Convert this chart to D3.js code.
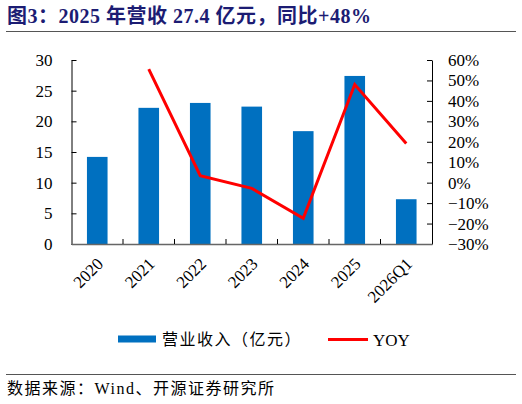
<!DOCTYPE html>
<html>
  <head>
    <meta charset="utf-8">
    <title>2025 revenue</title>
    <script src="https://d3js.org/d3.v7.min.js"></script>
    <style>
      body { margin: 0; background: #fff; }
      svg { display: block; }
      .serif { font-family: "Liberation Serif", "Times New Roman", serif; }
      .cjk { font-family: "Liberation Serif", "Noto Sans CJK SC", serif; }
    </style>
  </head>
  <body>
    <svg id="chart" width="522" height="404"></svg>
    <script>
      // data
      var categories = ["2020", "2021", "2022", "2023", "2024", "2025", "2026Q1"];
      var revenue = [14.2, 22.2, 23.0, 22.4, 18.4, 27.4, 7.3];
      var yoy = [null, 0.555, 0.034, -0.028, -0.174, 0.48, 0.192];
      var leftTicks = [0, 5, 10, 15, 20, 25, 30];
      var rightTicks = [-0.3, -0.2, -0.1, 0, 0.1, 0.2, 0.3, 0.4, 0.5, 0.6];

      var svg = d3.select("#chart");
      var plot = { left: 71.5, right: 432, top: 60, bottom: 244 };

      // title
      svg.append("text")
        .attr("x", 7)
        .attr("y", 23)
        .attr("fill", "#1c1c73")
        .style("font-family", "'Liberation Serif', 'Noto Sans CJK SC', serif")
        .style("font-weight", "bold")
        .style("font-size", "20px")
        .style("letter-spacing", "0.5px")
        .text("图3：2025 年营收 27.4 亿元，同比+48%");
      svg.append("line")
        .attr("x1", 6).attr("x2", 516)
        .attr("y1", 31.5).attr("y2", 31.5)
        .attr("stroke", "#555").attr("stroke-width", 1);

      // scales
      var x = d3.scaleBand()
        .domain(categories)
        .range([plot.left, plot.right])
        .paddingInner(0.6)
        .paddingOuter(0.3);
      var xStep = d3.scaleBand().domain(categories).range([plot.left, plot.right]);
      var yLeft = d3.scaleLinear().domain([0, 30]).range([plot.bottom, plot.top]);
      var yRight = d3.scaleLinear().domain([-0.3, 0.6]).range([plot.bottom, plot.top]);

      // bars
      svg.append("g")
        .selectAll("rect")
        .data(categories)
        .enter().append("rect")
          .attr("x", function(d) { return x(d); })
          .attr("width", x.bandwidth())
          .attr("y", function(d, i) { return yLeft(revenue[i]); })
          .attr("height", function(d, i) { return plot.bottom - yLeft(revenue[i]); })
          .attr("fill", "#0070c0");

      // yoy line
      var line = d3.line()
        .defined(function(d) { return d[1] !== null; })
        .x(function(d) { return xStep(d[0]) + xStep.bandwidth() / 2; })
        .y(function(d) { return yRight(d[1]); });
      svg.append("path")
        .datum(categories.map(function(c, i) { return [c, yoy[i]]; }))
        .attr("d", line)
        .attr("fill", "none")
        .attr("stroke", "#ff0000")
        .attr("stroke-width", 3);

      // left axis
      var leftAxis = d3.axisLeft(yLeft)
        .tickValues(leftTicks)
        .tickSize(-5)
        .tickSizeOuter(0)
        .tickPadding(19);
      var gl = svg.append("g")
        .attr("transform", "translate(" + plot.left + ",0)")
        .call(leftAxis);
      // right axis
      var rightAxis = d3.axisRight(yRight)
        .tickValues(rightTicks)
        .tickSize(-5)
        .tickSizeOuter(0)
        .tickPadding(16)
        .tickFormat(d3.format(".0%"));
      var gr = svg.append("g")
        .attr("transform", "translate(" + plot.right + ",0)")
        .call(rightAxis);
      // x axis
      var bottomAxis = d3.axisBottom(xStep)
        .tickSize(0)
        .tickSizeOuter(0)
        .tickPadding(0);
      var gb = svg.append("g")
        .attr("transform", "translate(0," + plot.bottom + ")")
        .call(bottomAxis);
      // boundary ticks
      gb.selectAll(".bound")
        .data(categories.slice(1))
        .enter().append("line")
          .attr("x1", function(d) { return xStep(d); })
          .attr("x2", function(d) { return xStep(d); })
          .attr("y1", 0).attr("y2", -5)
          .attr("stroke", "#000");

      [gl, gr, gb].forEach(function(g) {
        g.selectAll("text")
          .attr("class", "serif")
          .style("font-size", "17px")
          .attr("fill", "#000");
        g.selectAll("path, line").attr("stroke", "#000");
      });
      gb.selectAll(".tick text")
        .attr("text-anchor", "end")
        .attr("y", 0)
        .attr("dy", null)
        .attr("transform", "translate(7,21) rotate(-45)");
      gb.select(".domain").attr("stroke", "#666").attr("stroke-width", 1.5);

      // legend
      var legend = svg.append("g");
      legend.append("rect")
        .attr("x", 118).attr("y", 335.5)
        .attr("width", 38).attr("height", 7)
        .attr("fill", "#0070c0");
      legend.append("text")
        .attr("class", "cjk")
        .attr("x", 162).attr("y", 345)
        .style("font-size", "16px")
        .style("letter-spacing", "1.5px")
        .text("营业收入（亿元）");
      legend.append("line")
        .attr("x1", 328).attr("x2", 368)
        .attr("y1", 339.5).attr("y2", 339.5)
        .attr("stroke", "#ff0000").attr("stroke-width", 3);
      legend.append("text")
        .attr("class", "serif")
        .attr("x", 373).attr("y", 346)
        .style("font-size", "17px")
        .text("YOY");

      // source
      svg.append("line")
        .attr("x1", 6).attr("x2", 516)
        .attr("y1", 374.5).attr("y2", 374.5)
        .attr("stroke", "#555").attr("stroke-width", 1);
      svg.append("text")
        .attr("class", "cjk")
        .attr("x", 7).attr("y", 394)
        .style("font-size", "16px")
        .style("letter-spacing", "1.5px")
        .text("数据来源：Wind、开源证券研究所");
    </script>
  </body>
</html>
